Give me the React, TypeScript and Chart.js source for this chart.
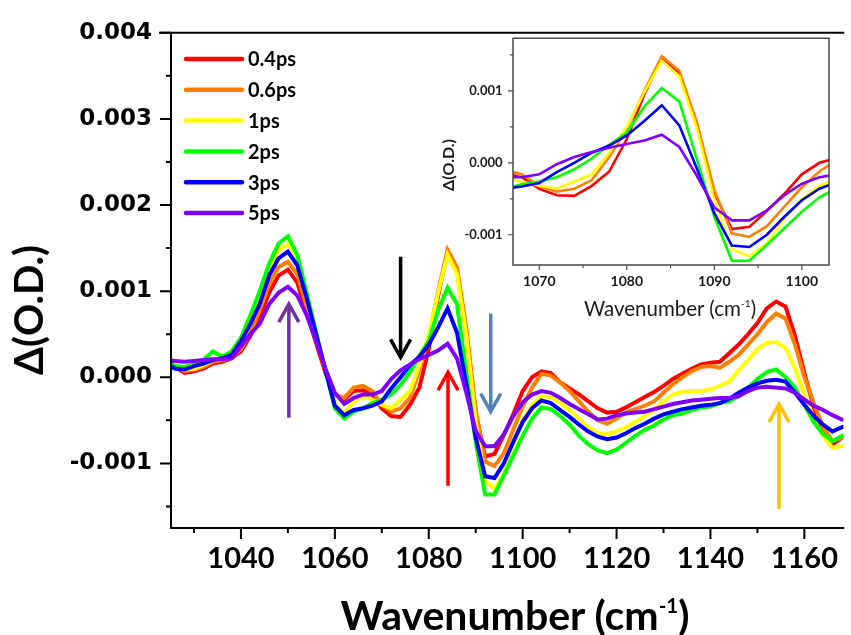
import { useEffect, useRef } from "react";
import { Chart, registerables } from "chart.js";

Chart.register(...registerables);

// Probe wavenumber grid (cm^-1), shared by every spectrum
const wavenumbers = [
  1024, 1026, 1028, 1030, 1032, 1034, 1036, 1038, 1040, 1042,
  1044, 1046, 1048, 1050, 1052, 1054, 1056, 1058, 1060, 1062,
  1064, 1066, 1068, 1070, 1072, 1074, 1076, 1078, 1080, 1082,
  1084, 1086, 1088, 1090, 1092, 1094, 1096, 1098, 1100, 1102,
  1104, 1106, 1108, 1110, 1112, 1114, 1116, 1118, 1120, 1122,
  1124, 1126, 1128, 1130, 1132, 1134, 1136, 1138, 1140, 1142,
  1144, 1146, 1148, 1150, 1152, 1154, 1156, 1158, 1160, 1162,
  1164, 1166, 1168, 1170,
];

// Transient difference spectra, in units of 1e-3 O.D.
const od04ps = [
  0.19, 0.12, 0.05, 0.07, 0.10, 0.16, 0.18, 0.22, 0.30, 0.48,
  0.70, 0.98, 1.18, 1.25, 1.10, 0.75, 0.40, 0.05, -0.20, -0.26,
  -0.16, -0.15, -0.20, -0.36, -0.45, -0.46, -0.32, -0.12, 0.33, 0.95,
  1.46, 1.25, 0.55, -0.42, -0.92, -0.89, -0.67, -0.43, -0.16, 0.00,
  0.07, 0.05, -0.06, -0.13, -0.20, -0.28, -0.36, -0.41, -0.40, -0.35,
  -0.29, -0.23, -0.17, -0.10, -0.02, 0.04, 0.10, 0.15, 0.17, 0.18,
  0.28, 0.38, 0.50, 0.63, 0.80, 0.88, 0.82, 0.48, 0.05, -0.35,
  -0.62, -0.78, -0.70, -0.68,
];
const od06ps = [
  0.20, 0.13, 0.07, 0.09, 0.12, 0.18, 0.20, 0.23, 0.33, 0.52,
  0.78, 1.08, 1.28, 1.34, 1.20, 0.82, 0.45, 0.08, -0.20, -0.24,
  -0.12, -0.10, -0.16, -0.32, -0.40, -0.36, -0.24, 0.08, 0.47, 1.00,
  1.48, 1.28, 0.56, -0.38, -0.98, -1.03, -0.88, -0.61, -0.34, -0.12,
  0.04, 0.02, -0.06, -0.16, -0.28, -0.40, -0.50, -0.54, -0.48, -0.41,
  -0.37, -0.33, -0.28, -0.18, -0.08, 0.00, 0.07, 0.12, 0.13, 0.11,
  0.18, 0.26, 0.38, 0.50, 0.64, 0.74, 0.68, 0.38, 0.00, -0.30,
  -0.58, -0.74, -0.70, -0.68,
];
const od1ps = [
  0.18, 0.12, 0.09, 0.10, 0.14, 0.20, 0.22, 0.26, 0.40, 0.65,
  0.95, 1.28, 1.48, 1.55, 1.38, 0.95, 0.50, 0.08, -0.30, -0.42,
  -0.28, -0.22, -0.26, -0.32, -0.36, -0.26, -0.16, 0.14, 0.50, 0.98,
  1.42, 1.20, 0.48, -0.52, -1.20, -1.30, -1.12, -0.78, -0.50, -0.32,
  -0.22, -0.23, -0.30, -0.38, -0.48, -0.58, -0.65, -0.66, -0.63, -0.58,
  -0.52, -0.45, -0.38, -0.28, -0.20, -0.17, -0.16, -0.16, -0.14, -0.10,
  -0.05, 0.08, 0.20, 0.33, 0.40, 0.41, 0.34, 0.10, -0.20, -0.50,
  -0.68, -0.82, -0.80, -0.75,
];
const od2ps = [
  0.18, 0.13, 0.12, 0.15, 0.20, 0.30, 0.24, 0.30, 0.46, 0.72,
  1.00, 1.32, 1.55, 1.64, 1.42, 0.98, 0.52, 0.08, -0.36, -0.48,
  -0.40, -0.36, -0.30, -0.26, -0.20, -0.09, 0.06, 0.25, 0.42, 0.78,
  1.04, 0.85, 0.05, -0.75, -1.36, -1.36, -1.14, -0.91, -0.68, -0.48,
  -0.35, -0.37, -0.45, -0.55, -0.68, -0.78, -0.85, -0.88, -0.84, -0.76,
  -0.68, -0.61, -0.56, -0.49, -0.44, -0.42, -0.38, -0.35, -0.34, -0.30,
  -0.28, -0.22, -0.12, -0.02, 0.06, 0.09, 0.00, -0.12, -0.32, -0.52,
  -0.66, -0.74, -0.68, -0.66,
];
const od3ps = [
  0.16, 0.10, 0.09, 0.13, 0.16, 0.20, 0.22, 0.26, 0.42, 0.62,
  0.85, 1.18, 1.38, 1.46, 1.30, 0.92, 0.50, 0.08, -0.33, -0.44,
  -0.38, -0.36, -0.33, -0.28, -0.13, 0.00, 0.14, 0.24, 0.38, 0.58,
  0.80, 0.52, -0.08, -0.70, -1.15, -1.17, -1.00, -0.75, -0.52, -0.36,
  -0.27, -0.30, -0.38, -0.46, -0.55, -0.63, -0.69, -0.72, -0.70, -0.65,
  -0.59, -0.54, -0.48, -0.43, -0.40, -0.37, -0.35, -0.33, -0.32, -0.30,
  -0.25, -0.18, -0.12, -0.07, -0.04, -0.03, -0.05, -0.18, -0.32, -0.45,
  -0.55, -0.63, -0.58, -0.55,
];
const od5ps = [
  0.20, 0.19, 0.18, 0.19, 0.20, 0.21, 0.21, 0.22, 0.36, 0.50,
  0.62, 0.85, 0.98, 1.05, 0.95, 0.72, 0.42, 0.10, -0.18, -0.31,
  -0.24, -0.20, -0.20, -0.16, -0.02, 0.08, 0.15, 0.21, 0.26, 0.31,
  0.39, 0.22, -0.18, -0.62, -0.80, -0.80, -0.66, -0.45, -0.29, -0.20,
  -0.16, -0.18, -0.24, -0.31, -0.37, -0.43, -0.49, -0.48, -0.44, -0.42,
  -0.41, -0.40, -0.37, -0.34, -0.31, -0.29, -0.27, -0.26, -0.25, -0.24,
  -0.24, -0.22, -0.16, -0.12, -0.11, -0.12, -0.13, -0.18, -0.26, -0.33,
  -0.38, -0.44, -0.49, -0.50,
];

const seriesLabels = ["0.4ps", "0.6ps", "1ps", "2ps", "3ps", "5ps"];
const seriesColors = ["#FF0000", "#FF8000", "#FFFF00", "#00FF00", "#0000FF", "#8000FF"];
const seriesValues = [od04ps, od06ps, od1ps, od2ps, od3ps, od5ps];
const OD_UNIT = 1e-3;

// Axis ticks
const mainXTicks = [1040, 1060, 1080, 1100, 1120, 1140, 1160];
const mainXMinor = [1030, 1050, 1070, 1090, 1110, 1130, 1150];
const mainYTicks = [-0.001, 0, 0.001, 0.002, 0.003, 0.004];
const mainYMinor = [-0.0015, -0.0005, 0.0005, 0.0015, 0.0025, 0.0035];
const insetXTicks = [1070, 1080, 1090, 1100];
const insetXMinor = [1075, 1085, 1095];
const insetYTicks = [-0.001, 0, 0.001];
const insetYMinor = [-0.0005, 0.0005, 0.0015];

// Band markers: wavenumber, tail and head (1e-3 O.D.)
const arrowWavenumbers = [1050.2, 1074.0, 1084.1, 1093.2, 1154.6];
const arrowTails = [-0.47, 1.4, -1.26, 0.74, -1.53];
const arrowHeads = [0.86, 0.22, 0.07, -0.41, -0.3];
const arrowColors = ["#7030A0", "#000000", "#FF0000", "#4F81BD", "#FFC000"];

function buildDatasets(lineWidth: number) {
  return seriesValues.map((vals, i) => ({
    label: seriesLabels[i],
    data: wavenumbers.map((w, j) => ({ x: w, y: vals[j] * OD_UNIT })),
    borderColor: seriesColors[i],
    backgroundColor: seriesColors[i],
    borderWidth: lineWidth,
    pointRadius: 0,
    tension: 0,
    fill: false,
    order: seriesValues.length - i,
    clip: 0,
  }));
}

type FrameOpts = {
  color: string;
  width: number;
  box: boolean;
  tickWidth: number;
  major: number;
  minor: number;
  xMajor: number[];
  xMinor: number[];
  yMajor: number[];
  yMinor: number[];
};

function axisFrame(o: FrameOpts) {
  return {
    id: "axisFrame",
    afterDraw(chart: any) {
      const { ctx, chartArea: a } = chart;
      const xs = chart.scales.x;
      const ys = chart.scales.y;
      ctx.save();
      ctx.strokeStyle = o.color;
      ctx.lineWidth = o.width;
      ctx.lineCap = "square";
      ctx.beginPath();
      if (o.box) {
        ctx.rect(a.left, a.top, a.right - a.left, a.bottom - a.top);
      } else {
        ctx.moveTo(a.right, a.top);
        ctx.lineTo(a.left - o.major, a.top);
        ctx.moveTo(a.left, a.top);
        ctx.lineTo(a.left, a.bottom);
        ctx.lineTo(a.right, a.bottom);
      }
      ctx.stroke();
      ctx.lineWidth = o.tickWidth;
      ctx.lineCap = "butt";
      ctx.beginPath();
      const xTick = (v: number, len: number) => {
        const p = xs.getPixelForValue(v);
        ctx.moveTo(p, a.bottom);
        ctx.lineTo(p, a.bottom + len);
      };
      const yTick = (v: number, len: number) => {
        const p = ys.getPixelForValue(v);
        ctx.moveTo(a.left, p);
        ctx.lineTo(a.left - len, p);
      };
      o.xMajor.forEach((v) => xTick(v, o.major));
      o.xMinor.forEach((v) => xTick(v, o.minor));
      o.yMajor.forEach((v) => yTick(v, o.major));
      o.yMinor.forEach((v) => yTick(v, o.minor));
      ctx.stroke();
      ctx.restore();
    },
  };
}

const bandArrows = {
  id: "bandArrows",
  afterDatasetsDraw(chart: any) {
    const { ctx } = chart;
    const xs = chart.scales.x;
    const ys = chart.scales.y;
    ctx.save();
    ctx.lineWidth = 3.5;
    ctx.lineJoin = "miter";
    ctx.lineCap = "butt";
    arrowWavenumbers.forEach((w, i) => {
      const px = xs.getPixelForValue(w);
      const y0 = ys.getPixelForValue(arrowTails[i] * OD_UNIT);
      const y1 = ys.getPixelForValue(arrowHeads[i] * OD_UNIT);
      const d = Math.sign(y1 - y0);
      ctx.strokeStyle = arrowColors[i];
      ctx.beginPath();
      ctx.moveTo(px, y0);
      ctx.lineTo(px, y1 - d * 2);
      ctx.stroke();
      ctx.beginPath();
      ctx.moveTo(px - 10, y1 - d * 19);
      ctx.lineTo(px, y1 - d * 1);
      ctx.lineTo(px + 10, y1 - d * 19);
      ctx.stroke();
    });
    ctx.restore();
  },
};

const seriesKey = {
  id: "seriesKey",
  afterDraw(chart: any) {
    const { ctx } = chart;
    ctx.save();
    ctx.font = "bold 20px Lato";
    ctx.textBaseline = "middle";
    ctx.textAlign = "left";
    ctx.lineWidth = 4.5;
    ctx.lineCap = "round";
    chart.data.datasets.forEach((ds: any, i: number) => {
      const y = 59 + i * 30.8;
      ctx.strokeStyle = ds.borderColor;
      ctx.beginPath();
      ctx.moveTo(186, y);
      ctx.lineTo(242, y);
      ctx.stroke();
      ctx.fillStyle = "#000";
      ctx.fillText(ds.label, 248, y + 1);
    });
    ctx.restore();
  },
};

function fixedTicks(values: number[]) {
  return (scale: any) => {
    scale.ticks = values.map((v) => ({ value: v }));
  };
}

function mainConfig(): any {
  return {
    type: "line",
    data: { datasets: buildDatasets(4) },
    options: {
      responsive: false,
      animation: false,
      events: [],
      layout: { padding: { top: 29, right: 0, left: 0, bottom: 0 }, autoPadding: false },
      plugins: { legend: { display: false }, tooltip: { enabled: false } },
      scales: {
        x: {
          type: "linear",
          min: 1025.1,
          max: 1168.3,
          afterBuildTicks: fixedTicks(mainXTicks),
          afterFit: (s: any) => {
            s.height = 107;
          },
          grid: { display: false, drawTicks: false },
          border: { display: false },
          ticks: {
            padding: 13,
            color: "#000",
            font: { family: "Lato", weight: "bold", size: 29 },
            maxRotation: 0,
            autoSkip: false,
            callback: (v: any) => String(v),
          },
        },
        y: {
          type: "linear",
          min: -0.00175,
          max: 0.004,
          afterBuildTicks: fixedTicks(mainYTicks),
          afterFit: (s: any) => {
            s.width = 171;
          },
          grid: { display: false, drawTicks: false },
          border: { display: false },
          ticks: {
            padding: 19,
            color: "#000",
            font: { family: "DejaVu Sans", weight: "bold", size: 23 },
            autoSkip: false,
            callback: (v: any) => Number(v).toFixed(3),
          },
        },
      },
    },
    plugins: [
      axisFrame({
        color: "#000",
        width: 2,
        box: false,
        tickWidth: 2,
        major: 11,
        minor: 5,
        xMajor: mainXTicks,
        xMinor: mainXMinor,
        yMajor: mainYTicks,
        yMinor: mainYMinor,
      }),
      bandArrows,
      seriesKey,
    ],
  };
}

function insetConfig(): any {
  return {
    type: "line",
    data: { datasets: buildDatasets(2.6) },
    options: {
      responsive: false,
      animation: false,
      events: [],
      layout: { padding: { top: 14, right: 11, left: 0, bottom: 0 }, autoPadding: false },
      plugins: { legend: { display: false }, tooltip: { enabled: false } },
      scales: {
        x: {
          type: "linear",
          min: 1067.0,
          max: 1103.1,
          afterBuildTicks: fixedTicks(insetXTicks),
          afterFit: (s: any) => {
            s.height = 65;
          },
          grid: { display: false, drawTicks: false },
          border: { display: false },
          ticks: {
            padding: 8,
            color: "#1a1a1a",
            font: { family: "Lato", weight: "bold", size: 14 },
            maxRotation: 0,
            autoSkip: false,
            callback: (v: any) => String(v),
          },
        },
        y: {
          type: "linear",
          min: -0.00142,
          max: 0.00173,
          afterBuildTicks: fixedTicks(insetYTicks),
          afterFit: (s: any) => {
            s.width = 93;
          },
          grid: { display: false, drawTicks: false },
          border: { display: false },
          ticks: {
            padding: 10.5,
            color: "#1a1a1a",
            font: { family: "Lato", weight: "bold", size: 13 },
            autoSkip: false,
            callback: (v: any) => Number(v).toFixed(3),
          },
        },
      },
    },
    plugins: [
      axisFrame({
        color: "#4a4a4a",
        width: 1.5,
        box: true,
        tickWidth: 1.2,
        major: 5,
        minor: 3,
        xMajor: insetXTicks,
        xMinor: insetXMinor,
        yMajor: insetYTicks,
        yMinor: insetYMinor,
      }),
    ],
  };
}

export default function App() {
  const mainRef = useRef<HTMLCanvasElement>(null);
  const insetRef = useRef<HTMLCanvasElement>(null);

  useEffect(() => {
    const main = new Chart(mainRef.current as HTMLCanvasElement, mainConfig());
    const inset = new Chart(insetRef.current as HTMLCanvasElement, insetConfig());
    return () => {
      main.destroy();
      inset.destroy();
    };
  }, []);

  const sup = {
    fontSize: "0.5em",
    verticalAlign: "baseline",
    position: "relative" as const,
    top: "-0.85em",
  };

  return (
    <div
      style={{
        position: "fixed",
        left: 0,
        top: 0,
        width: 851,
        height: 635,
        overflow: "hidden",
        background: "#fff",
        fontFamily: "Lato, sans-serif",
        color: "#000",
      }}
    >
      <canvas
        ref={mainRef}
        width={851}
        height={635}
        style={{ position: "absolute", left: 0, top: 0, width: 851, height: 635 }}
      />
      <canvas
        ref={insetRef}
        width={420}
        height={310}
        style={{ position: "absolute", left: 420, top: 20, width: 420, height: 310 }}
      />
      <div
        style={{
          position: "absolute",
          left: 28,
          top: 310,
          transform: "translate(-50%, -50%) rotate(-90deg)",
          fontWeight: 700,
          fontSize: 40,
          lineHeight: 1,
          whiteSpace: "nowrap",
        }}
      >
        Δ(O.D.)
      </div>
      <div
        style={{
          position: "absolute",
          left: 515,
          top: 594,
          transform: "translateX(-50%)",
          fontWeight: 700,
          fontSize: 41,
          lineHeight: 1,
          whiteSpace: "nowrap",
        }}
      >
        Wavenumber (cm<span style={sup}>-1</span>)
      </div>
      <div
        style={{
          position: "absolute",
          left: 448,
          top: 165,
          transform: "translate(-50%, -50%) rotate(-90deg)",
          fontWeight: 700,
          fontSize: 16,
          lineHeight: 1,
          whiteSpace: "nowrap",
          color: "#1a1a1a",
        }}
      >
        Δ(O.D.)
      </div>
      <div
        style={{
          position: "absolute",
          left: 670,
          top: 298,
          transform: "translateX(-50%)",
          fontWeight: 400,
          fontSize: 20.5,
          lineHeight: 1,
          whiteSpace: "nowrap",
          color: "#1a1a1a",
        }}
      >
        Wavenumber (cm<span style={sup}>-1</span>)
      </div>
    </div>
  );
}
